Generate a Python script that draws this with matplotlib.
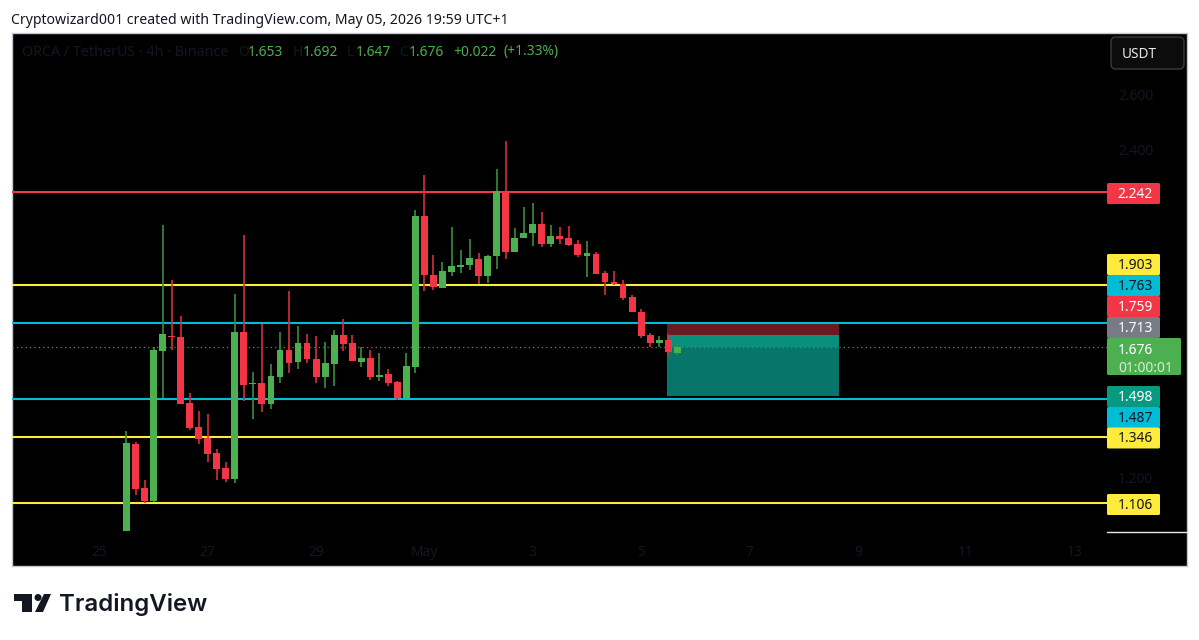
import matplotlib
matplotlib.use('Agg')
import matplotlib.pyplot as plt
from matplotlib.patches import FancyBboxPatch, Polygon, Circle, Rectangle
import numpy as np

# 4h candles
opens = [1.003, 1.321, 1.160, 1.112, 1.661, 1.716, 1.712, 1.471, 1.383, 1.343, 1.288,
         1.233, 1.193, 1.730, 1.540, 1.544, 1.467, 1.566, 1.664, 1.621, 1.690, 1.632,
         1.566, 1.613, 1.719, 1.690, 1.621, 1.635, 1.566, 1.577, 1.547, 1.489, 1.602,
         2.154, 1.938, 1.891, 1.949, 1.968, 1.975, 1.997, 1.935, 2.008, 2.245, 2.023,
         2.074, 2.092, 2.125, 2.052, 2.081, 2.074, 2.052, 2.008, 2.015, 1.946, 1.913,
         1.906, 1.858, 1.803, 1.719, 1.690, 1.701, 1.653]
highs = [1.368, 1.328, 1.189, 1.675, 2.121, 1.920, 1.789, 1.507, 1.441, 1.430, 1.302,
         1.255, 1.869, 2.085, 1.584, 1.759, 1.613, 1.730, 1.880, 1.752, 1.723, 1.716,
         1.694, 1.737, 1.778, 1.719, 1.675, 1.664, 1.653, 1.595, 1.551, 1.653, 2.176,
         2.304, 2.012, 1.986, 2.114, 2.030, 2.070, 2.019, 2.012, 2.326, 2.428, 2.110,
         2.187, 2.202, 2.169, 2.121, 2.114, 2.118, 2.066, 2.063, 2.023, 1.953, 1.953,
         1.920, 1.865, 1.814, 1.727, 1.716, 1.723, 1.692]
lows = [1.003, 1.134, 1.105, 1.109, 1.489, 1.664, 1.467, 1.372, 1.321, 1.255, 1.189,
        1.182, 1.178, 1.478, 1.412, 1.438, 1.449, 1.544, 1.580, 1.595, 1.617, 1.544,
        1.526, 1.533, 1.661, 1.624, 1.602, 1.555, 1.551, 1.533, 1.482, 1.489, 1.580,
        1.880, 1.884, 1.891, 1.935, 1.946, 1.957, 1.906, 1.909, 1.960, 1.997, 2.023,
        2.074, 2.044, 2.041, 2.041, 2.052, 2.044, 2.004, 1.931, 1.942, 1.865, 1.902,
        1.847, 1.803, 1.708, 1.675, 1.675, 1.642, 1.647]
closes = [1.324, 1.156, 1.112, 1.664, 1.723, 1.712, 1.467, 1.379, 1.339, 1.284, 1.229,
          1.193, 1.730, 1.537, 1.544, 1.467, 1.569, 1.664, 1.617, 1.690, 1.632, 1.566,
          1.617, 1.719, 1.686, 1.624, 1.635, 1.566, 1.573, 1.544, 1.489, 1.606, 2.154,
          1.938, 1.895, 1.953, 1.971, 1.975, 2.001, 1.935, 2.008, 2.245, 2.023, 2.074,
          2.092, 2.125, 2.052, 2.081, 2.070, 2.048, 2.012, 2.019, 1.942, 1.913, 1.906,
          1.854, 1.803, 1.716, 1.690, 1.701, 1.657, 1.676]

# horizontal levels
level_prices = [2.242, 1.903, 1.763, 1.487, 1.346, 1.106]
level_colors = ['#f23645', '#ffeb3b', '#00bcd4', '#00bcd4', '#ffeb3b', '#ffeb3b']

# short position tool
stop_price = 1.759
entry_price = 1.719
target_price = 1.498
last_price = 1.676
position_start = 59.86
position_end = 78.9

# axis labels
day_ticks = [-3, 9, 21, 33, 45, 57, 69, 81, 93, 105]
day_labels = ['25', '27', '29', 'May', '3', '5', '7', '9', '11', '13']
price_ticks = [2.6, 2.4, 1.2]

# price scale tags
tag_texts = ['2.242', '1.903', '1.763', '1.759', '1.713', '1.498', '1.487', '1.346', '1.106']
tag_colors = ['#f23645', '#ffeb3b', '#00bcd4', '#f23645', '#787b86', '#089981', '#00bcd4', '#ffeb3b', '#ffeb3b']
tag_inks = ['white', '#131722', '#131722', 'white', 'white', 'white', '#131722', '#131722', '#131722']
tag_centers = [193.5, 264.5, 285.5, 306.5, 327.5, 396.5, 417.5, 438, 504.5]

W, H = 1199, 640
FONT = 'Noto Sans'
DARK = '#131722'
GREEN = '#4caf50'
RED = '#f23645'

plt.rcParams['font.family'] = [FONT, 'DejaVu Sans']

fig = plt.figure(figsize=(W / 100, H / 100), dpi=100, facecolor='white')


def px_axes(left, top, right, bottom):
    return fig.add_axes([left / W, 1 - bottom / H, (right - left) / W, (bottom - top) / H])


# Black panel behind chart and price scale.
panel = px_axes(12, 33, 1187, 566)
panel.set_facecolor('black')
panel.set_xticks([])
panel.set_yticks([])
for side in panel.spines.values():
    side.set_color('#c4c7cf')
    side.set_linewidth(1)

# Chart axes.
ax = px_axes(12, 33, 1107, 566)
ax.patch.set_alpha(0)
ax.set_xlim(-12.68, 108.6)
ax.set_ylim(0.8760, 2.8241)
for side in ax.spines.values():
    side.set_visible(False)

ax.set_xticks(day_ticks)
ax.set_xticklabels(day_labels, fontsize=10, color=DARK)
ax.tick_params(axis='x', length=0, direction='in', pad=-15)
ax.yaxis.tick_right()
ax.set_yticks(price_ticks)
ax.set_yticklabels(['{:.3f}'.format(p) for p in price_ticks], fontsize=10, color=DARK)
ax.tick_params(axis='y', length=0, pad=8)

# Position tool.
ax.add_patch(Rectangle((position_start, entry_price), position_end - position_start,
                       stop_price - entry_price, color='#6b1a22', lw=0, zorder=1))
ax.add_patch(Rectangle((position_start, last_price), position_end - position_start,
                       entry_price - last_price, color='#0a8f7d', lw=0, zorder=1))
ax.add_patch(Rectangle((position_start, target_price), position_end - position_start,
                       last_price - target_price, color='#07756a', lw=0, zorder=1))

# Levels and last price line.
for price, color in zip(level_prices, level_colors):
    ax.axhline(price, color=color, lw=1.5, zorder=2)
ax.axhline(last_price, color='#4a9a4e', lw=0.9, ls=(0, (1, 2.5)), zorder=2)

# Candles.
o = np.array(opens)
h = np.array(highs)
l = np.array(lows)
c = np.array(closes)
x = np.arange(len(o))
up = c >= o
ax.vlines(x[up], l[up], h[up], color='#388e3c', lw=1.2, zorder=3)
ax.vlines(x[~up], l[~up], h[~up], color='#d32f3f', lw=1.2, zorder=3)
ax.bar(x[up], (c - o)[up], bottom=o[up], width=0.76, color=GREEN, lw=0, zorder=4)
ax.bar(x[~up], (c - o)[~up], bottom=o[~up], width=0.76, color=RED, lw=0, zorder=4)

# Overlay in pixel coordinates for header, tags, logo.
ov = fig.add_axes([0, 0, 1, 1])
ov.set_xlim(0, W)
ov.set_ylim(H, 0)
ov.axis('off')
ov.patch.set_alpha(0)

ov.text(11, 20, 'Cryptowizard001 created with TradingView.com, May 05, 2026 19:59 UTC+1',
        fontsize=10.15, color=DARK, va='center', ha='left')

# Legend row.
ov.text(22, 52, 'ORCA / TetherUS · 4h · Binance', fontsize=10.3, color=DARK, va='center')
for label, xpos in zip('OHLC', [238, 293, 347, 399]):
    ov.text(xpos, 52, label, fontsize=10, color=DARK, va='center')
for value, xpos in zip(['1.653', '1.692', '1.647', '1.676', '+0.022', '(+1.33%)'],
                       [248, 303, 356, 409, 453, 503]):
    ov.text(xpos, 52, value, fontsize=10, color=GREEN, va='center')

# USDT button.
ov.add_patch(FancyBboxPatch((1111, 37), 73, 32, boxstyle='round,pad=0,rounding_size=5',
                            fc='#0c0c0c', ec='#3a3a3a', lw=1))
ov.text(1139, 54, 'USDT', fontsize=9.8, color='#e8e8e8', ha='center', va='center')

# Price scale tags.
for text, color, ink, yc in zip(tag_texts, tag_colors, tag_inks, tag_centers):
    ov.add_patch(FancyBboxPatch((1107, yc - 10.5), 53, 21,
                                boxstyle='round,pad=0,rounding_size=1.5', fc=color, ec='none'))
    ov.text(1135.5, yc + 1, text, fontsize=10, color=ink, ha='center', va='center')

ov.add_patch(FancyBboxPatch((1107, 338), 74, 37, boxstyle='round,pad=0,rounding_size=1.5',
                            fc=GREEN, ec='none'))
ov.text(1118, 350, '1.676', fontsize=10, color='white', ha='left', va='center')
ov.text(1118, 368, '01:00:01', fontsize=10, color='#d5ecd6', ha='left', va='center')

# White stub on the price scale.
ov.plot([1107, 1187], [532, 532], color='#e8e8e8', lw=1)

# TradingView logo.
ov.add_patch(Polygon([(14, 594), (32, 594), (32, 612), (22, 612), (22, 601), (14, 601)],
                     closed=True, fc=DARK, ec='none'))
ov.add_patch(Circle((38, 597.5), 3.5, fc=DARK, ec='none'))
ov.add_patch(Polygon([(44, 594), (51, 594), (43, 612), (35, 612)], closed=True, fc=DARK, ec='none'))
ov.text(59, 605, 'TradingView', fontsize=17.3, fontweight='semibold', family='Inter',
        color=DARK, va='center', ha='left')

fig.savefig('out.png', dpi=100, facecolor='white')
